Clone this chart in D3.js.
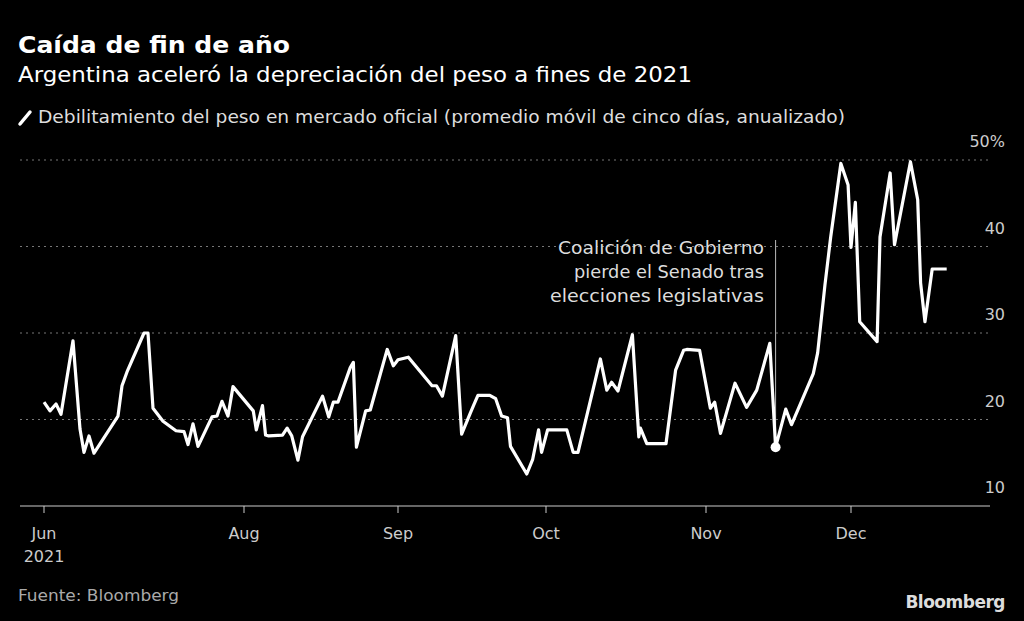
<!DOCTYPE html>
<html><head><meta charset="utf-8">
<script src="https://cdn.jsdelivr.net/npm/d3@7"></script>
<style>body{margin:0;background:#000}svg{display:block}text{font-family:"DejaVu Sans",sans-serif}</style>
</head><body><svg id="c" width="1024" height="621"></svg>
<script>
// x: month position (0=Jun, 1=Jul, 2=Aug, ... 6=Dec)
const monthPos = [0.0,0.06,0.12,0.17,0.29,0.36,0.40,0.45,0.50,0.74,0.78,0.83,1.00,1.04,1.09,1.19,1.32,1.40,1.44,1.49,1.54,1.68,1.73,1.78,1.84,1.89,
2.06,2.08,2.12,2.14,2.16,2.25,2.28,2.31,2.35,2.38,2.51,2.55,2.58,2.61,2.69,2.71,2.73,2.79,2.82,2.93,2.97,
3.0,3.07,3.23,3.26,3.30,3.39,3.43,3.49,3.51,3.54,3.62,3.66,3.70,3.74,3.76,3.87,3.91,3.95,3.97,
4.01,4.13,4.17,4.20,4.34,4.38,4.41,4.45,4.54,4.58,4.59,4.63,4.75,4.81,4.86,4.88,4.96,
5.03,5.06,5.10,5.20,5.28,5.35,5.44,5.48,5.55,5.59,5.74,5.77,5.82,5.86,5.93,5.98,
6.0,6.03,6.06,6.18,6.20,6.27,6.30,6.41,6.46,6.48,6.51,6.56,6.66];
const values = [22.0,21.0,21.8,20.6,29.1,18.9,16.2,18.1,16.1,20.4,23.9,25.5,30.0,30.0,21.3,19.8,18.7,18.6,17.1,19.5,16.9,20.3,20.4,22.1,20.4,23.8,
21.0,18.8,21.6,18.2,18.1,18.2,19.0,18.1,15.3,18.0,22.7,20.3,22.0,22.0,26.0,26.6,16.8,21.0,21.1,28.1,26.2,
26.9,27.2,23.9,23.9,22.7,29.7,18.3,20.8,21.6,22.8,22.8,22.4,20.4,20.2,16.9,13.7,15.4,18.8,16.2,
18.8,18.8,16.2,16.2,27.0,23.4,24.3,23.3,29.8,18.0,19.0,17.2,17.2,25.7,28.0,28.1,28.0,
21.3,22.0,18.4,24.2,21.4,23.4,28.8,16.8,21.2,19.4,25.3,27.7,35.5,41.1,49.6,47.1,
39.9,45.1,31.3,29.0,41.1,48.5,40.2,49.8,45.4,35.8,31.3,37.4,37.4];
const monthTicks = [0,2,3,4,5,6];
const monthLabels = ["Jun","Aug","Sep","Oct","Nov","Dec"];
const yTicks = [10,20,30,40,50];
const eventPos = 5.48, eventValue = 16.8;

const svg = d3.select("#c");
const x = d3.scaleLinear().domain([0,2,3,4,5,6,7]).range([44,244,398,546,706,851,996]);
const y = d3.scaleLinear().domain([10,50]).range([506,160]);

function fit(sel,len){return sel.attr("textLength",len).attr("lengthAdjust","spacingAndGlyphs");}
fit(svg.append("text").attr("x",18).attr("y",53).attr("fill","#fff").attr("font-size",23).attr("font-weight","bold").text("Caída de fin de año"),272);
fit(svg.append("text").attr("x",18).attr("y",82).attr("fill","#fff").attr("font-size",21).text("Argentina aceleró la depreciación del peso a fines de 2021"),674);
svg.append("line").attr("x1",20).attr("y1",124).attr("x2",30).attr("y2",112).attr("stroke","#fff").attr("stroke-width",3.5).attr("stroke-linecap","round");
fit(svg.append("text").attr("x",38).attr("y",123).attr("fill","#ddd").attr("font-size",17).text("Debilitamiento del peso en mercado oficial (promedio móvil de cinco días, anualizado)"),807);

yTicks.forEach(t=>{
  if(t>10) svg.append("line").attr("x1",20).attr("x2",990).attr("y1",y(t)).attr("y2",y(t)).attr("stroke","#777").attr("stroke-dasharray","2,4");
  svg.append("text").attr("x",1005).attr("y",y(t)-13).attr("text-anchor","end").attr("fill","#ccc").attr("font-size",16).text(t===50?"50%":t);
});
svg.append("line").attr("x1",20).attr("x2",990).attr("y1",y(10)).attr("y2",y(10)).attr("stroke","#ccc").attr("stroke-width",1.2);
monthTicks.forEach((m,i)=>{
  svg.append("line").attr("x1",x(m)).attr("x2",x(m)).attr("y1",506).attr("y2",513).attr("stroke","#ccc");
  svg.append("text").attr("x",x(m)).attr("y",539).attr("text-anchor","middle").attr("fill","#ccc").attr("font-size",16).text(monthLabels[i]);
});
svg.append("text").attr("x",x(0)).attr("y",562).attr("text-anchor","middle").attr("fill","#ccc").attr("font-size",16).text("2021");

// annotation
svg.append("line").attr("x1",x(eventPos)).attr("x2",x(eventPos)).attr("y1",240).attr("y2",y(eventValue)).attr("stroke","#bbb").attr("stroke-width",1);
[["Coalición de Gobierno",206],["pierde el Senado tras",190],["elecciones legislativas",214]].forEach((s,i)=>
  fit(svg.append("text").attr("x",764).attr("y",254+i*24).attr("text-anchor","end").attr("fill","#ddd").attr("font-size",17).text(s[0]),s[1]));

const pts = monthPos.map((m,i)=>[m,values[i]]);
svg.append("path").attr("d",d3.line().x(d=>x(d[0])).y(d=>y(d[1]))(pts)).attr("fill","none").attr("stroke","#fff").attr("stroke-width",3.2).attr("stroke-linejoin","round");
svg.append("circle").attr("cx",x(eventPos)).attr("cy",y(eventValue)).attr("r",5).attr("fill","#fff");

fit(svg.append("text").attr("x",18).attr("y",601).attr("fill","#aaa").attr("font-size",16).text("Fuente: Bloomberg"),161);
svg.append("text").attr("x",1005).attr("y",608).attr("text-anchor","end").attr("fill","#ddd").attr("font-size",17).attr("font-weight","bold").attr("font-family","Arial, 'Liberation Sans'").attr("letter-spacing","-0.5").text("Bloomberg");
</script></body></html>
